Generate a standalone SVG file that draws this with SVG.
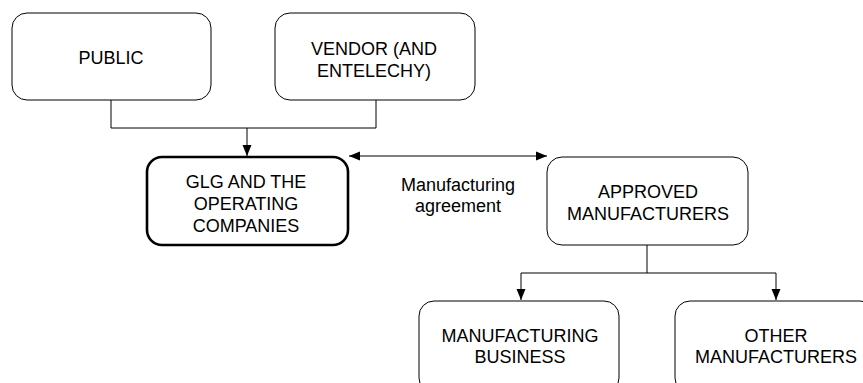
<svg xmlns="http://www.w3.org/2000/svg" width="863" height="383" viewBox="0 0 863 383">
<style>
.box{fill:#fff;stroke:#000;stroke-width:1}
.bold{stroke-width:2.6}
.t{font-family:"Liberation Sans",Arial,sans-serif;font-size:18px;fill:#000;text-anchor:middle}
.c{fill:none;stroke:#000;stroke-width:1}
</style>
<defs>
<marker id="ah" markerUnits="userSpaceOnUse" markerWidth="12" markerHeight="12" viewBox="0 0 12 12" refX="11" refY="6" orient="auto-start-reverse">
<path d="M0,1.5 L11,6 L0,10.5 Z" fill="#000"/>
</marker>
</defs>
<rect width="863" height="383" fill="#fff"/>
<g id="connectors">
<path class="c" d="M111,100 V128 H376 V100"/>
<path class="c" d="M247,128 V156" marker-end="url(#ah)"/>
<path class="c" d="M349,156 H547" marker-start="url(#ah)" marker-end="url(#ah)"/>
<path class="c" d="M647,245 V273"/>
<path class="c" d="M647,273 H521 V300" marker-end="url(#ah)"/>
<path class="c" d="M647,273 H776 V300" marker-end="url(#ah)"/>
</g>
<g id="public">
<rect class="box" x="12" y="13" width="199" height="87" rx="15"/>
<text class="t" x="111" y="64">PUBLIC</text>
</g>
<g id="vendor">
<rect class="box" x="275" y="13" width="200" height="87" rx="15"/>
<text class="t" x="374" y="55">VENDOR (AND</text>
<text class="t" x="374" y="77">ENTELECHY)</text>
</g>
<g id="glg">
<rect class="box bold" x="147" y="157" width="201" height="88" rx="15"/>
<text class="t" x="246" y="188">GLG AND THE</text>
<text class="t" x="246" y="210">OPERATING</text>
<text class="t" x="246" y="232">COMPANIES</text>
</g>
<g id="agreement-label">
<text class="t" x="458" y="191">Manufacturing</text>
<text class="t" x="458" y="212">agreement</text>
</g>
<g id="approved">
<rect class="box" x="547" y="157" width="201" height="88" rx="15"/>
<text class="t" x="648" y="198">APPROVED</text>
<text class="t" x="648" y="220">MANUFACTURERS</text>
</g>
<g id="manufacturing-business">
<rect class="box" x="419" y="301" width="200" height="92" rx="15"/>
<text class="t" x="520" y="342">MANUFACTURING</text>
<text class="t" x="520" y="363">BUSINESS</text>
</g>
<g id="other-manufacturers">
<rect class="box" x="675" y="301" width="200" height="92" rx="15"/>
<text class="t" x="776" y="342">OTHER</text>
<text class="t" x="776" y="363">MANUFACTURERS</text>
</g>
</svg>
